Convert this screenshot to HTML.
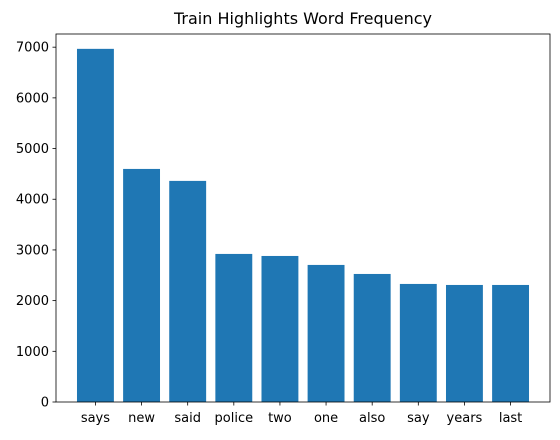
<!DOCTYPE html>
<html><head><meta charset="utf-8"><style>
body{margin:0;background:#fff;font-family:"Liberation Sans","DejaVu Sans",sans-serif}
svg text{font-family:"DejaVu Sans","Liberation Sans",sans-serif;font-size:13px;fill:#000}
</style></head><body>
<svg id="chart" width="560" height="435">
<text x="303" y="24" text-anchor="middle" style="font-size:16px">Train Highlights Word Frequency</text>
<g id="bars"></g><g id="axes"></g>
</svg>
<script>
const categories=["says","new","said","police","two","one","also","say","years","last"];
const counts=[6967,4598,4362,2921,2881,2704,2526,2329,2309,2309];
const yTicks=[0,1000,2000,3000,4000,5000,6000,7000];
const L=56,R=550,T=34,B=402;
const yMax=7260;
const xMin=-0.855,xMax=categories.length-1+0.855;
function xs(v){return L+(v-xMin)/(xMax-xMin)*(R-L);}
function ys(v){return B-v/yMax*(B-T);}
const NS="http://www.w3.org/2000/svg";
const bars=document.getElementById('bars'),axes=document.getElementById('axes');
function mk(tag,attrs,parent){const e=document.createElementNS(NS,tag);for(const k in attrs)e.setAttribute(k,attrs[k]);parent.appendChild(e);return e;}
categories.forEach((c,i)=>{
  const r=mk('rect',{x:xs(i-0.4),y:ys(counts[i]),width:xs(i+0.4)-xs(i-0.4),height:ys(0)-ys(counts[i]),fill:'#1f77b4'},bars);
  
  
  mk('line',{x1:xs(i),x2:xs(i),y1:B,y2:B+3.5,stroke:'#000','stroke-width':0.8},axes);
  const t=mk('text',{x:xs(i),y:B+20,'text-anchor':'middle'},axes);
  t.textContent=c;
  
  
});
yTicks.forEach(v=>{
  mk('line',{x1:L-3.5,x2:L,y1:ys(v),y2:ys(v),stroke:'#000','stroke-width':0.8},axes);
  const t=mk('text',{x:L-7,y:ys(v)+4.5,'text-anchor':'end'},axes);
  t.textContent=v;
  
  
});
const fr=mk('rect',{x:L,y:T,width:R-L,height:B-T,fill:'none',stroke:'#000','stroke-width':0.8},axes);


</script>
</body></html>
